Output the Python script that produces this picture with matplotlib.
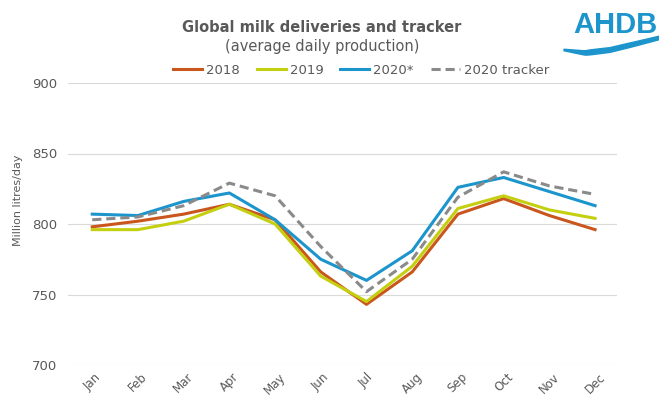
import matplotlib.pyplot as plt
from matplotlib.patches import Polygon
import numpy as np

# Global milk deliveries, average daily production (million litres/day)
months = ['Jan', 'Feb', 'Mar', 'Apr', 'May', 'Jun', 'Jul', 'Aug', 'Sep', 'Oct', 'Nov', 'Dec']
y2018 = [798, 802, 807, 814, 803, 766, 743, 766, 807, 818, 806, 796]
y2019 = [796, 796, 802, 814, 800, 763, 745, 770, 811, 820, 810, 804]
y2020 = [807, 806, 816, 822, 803, 775, 760, 781, 826, 833, 823, 813]
tracker = [803, 805, 813, 829, 820, 784, 752, 775, 819, 837, 827, 821]
yticks = [700, 750, 800, 850, 900]

W, H = 659, 398
fig = plt.figure(figsize=(W/100, H/100), dpi=100)
ax = fig.add_axes([68/W, 1-365/H, (617-68)/W, (365-83)/H])

x = np.arange(len(months))
ax.plot(x, y2018, color='#C9561C', lw=2.2, label='2018')
ax.plot(x, y2019, color='#C4CF10', lw=2.2, label='2019')
ax.plot(x, y2020, color='#1C95CC', lw=2.2, label='2020*')
ax.plot(x, tracker, color='#8A8A8A', lw=2.2, ls=(0, (3, 1.6)), label='2020 tracker')

ax.set_xlim(-0.53, 11.48)
ax.set_ylim(700, 900)
ax.set_yticks(yticks)
ax.set_xticks(x)
ax.set_xticklabels(months, rotation=45, ha='center', va='top', fontsize=8.5, color='#595959')
ax.tick_params(axis='y', labelsize=9.5, colors='#595959', length=0, pad=8)
ax.tick_params(axis='x', length=0, pad=4)
ax.grid(axis='y', color='#D9D9D9', lw=0.8)
ax.set_axisbelow(True)
for s in ax.spines.values():
    s.set_visible(False)

fig.text(18/W, 1-200/H, 'Million litres/day', rotation=90, ha='center', va='center',
         fontsize=8, color='#595959')

fig.text(322/W, 1-27/H, 'Global milk deliveries and tracker', ha='center', va='center',
         fontsize=10.5, fontweight='bold', color='#595959')
fig.text(322/W, 1-46/H, '(average daily production)', ha='center', va='center',
         fontsize=10.5, color='#595959')

leg = fig.legend(loc='center', bbox_to_anchor=(361/W, 1-70/H), ncol=4, frameon=False,
                 fontsize=9.5, handlelength=2.2, handletextpad=0.3, columnspacing=1.3)
for t in leg.get_texts():
    t.set_color('#595959')

# logo
fig.text(615/W, 1-25/H, 'AHDB', ha='center', va='center', fontsize=21,
         fontweight='bold', color='#1C95CC', family='Liberation Sans')
wx = np.linspace(564, 659, 40)
wc = np.interp(wx, [564, 585, 610, 635, 659], [50, 53, 50, 44, 38])
wt = np.interp(wx, [564, 590, 630, 659], [1.5, 5, 4.5, 3.5])
pts = np.vstack([np.column_stack([wx, wc - wt/2]), np.column_stack([wx[::-1], (wc + wt/2)[::-1]])])
pts[:, 0] /= W
pts[:, 1] = 1 - pts[:, 1]/H
fig.add_artist(Polygon(pts, closed=True, color='#1C95CC', transform=fig.transFigure))

fig.savefig('out.png', dpi=100)
